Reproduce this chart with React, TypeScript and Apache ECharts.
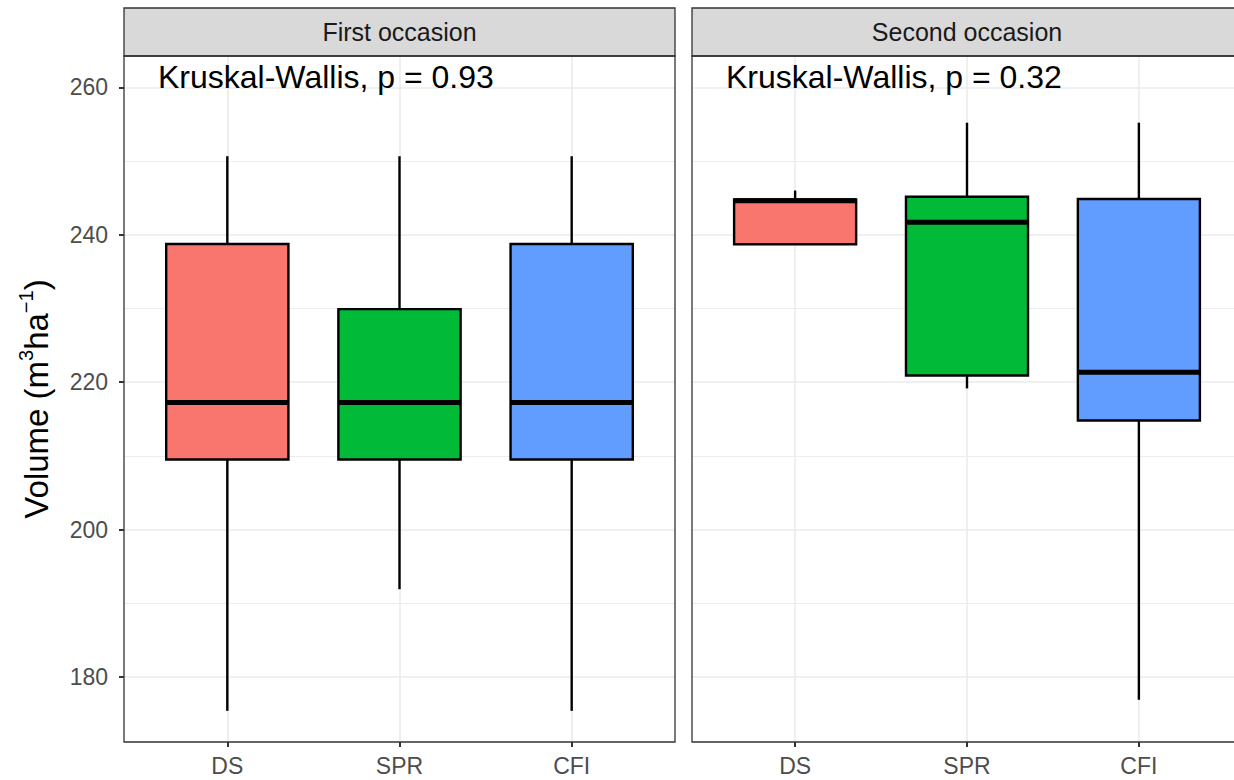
import React, { useEffect, useRef } from "react";
import * as echarts from "echarts";

const categories = ["DS", "SPR", "CFI"];
const boxColors = ["#F8766D", "#00BA38", "#619CFF"];
const panelTitles = ["First occasion", "Second occasion"];
const pLabels = ["Kruskal-Wallis, p = 0.93", "Kruskal-Wallis, p = 0.32"];

// [low whisker, Q1, median, Q3, high whisker] per category
const firstLow = [175.4, 191.9, 175.4];
const firstQ1 = [209.5, 209.5, 209.5];
const firstMed = [217.25, 217.25, 217.25];
const firstQ3 = [238.75, 229.9, 238.75];
const firstHigh = [250.65, 250.65, 250.65];

const secondLow = [238.7, 219.15, 176.9];
const secondQ1 = [238.7, 220.9, 214.8];
const secondMed = [244.6, 241.7, 221.35];
const secondQ3 = [244.8, 245.15, 244.85];
const secondHigh = [246.0, 255.2, 255.2];

const yTicks = [180, 200, 220, 240, 260];
const yMinor = [190, 210, 230, 250];
const xTicks = [1, 2, 3];

const FONT = "'Liberation Sans', Arial, Helvetica, sans-serif";

const PANEL_TOP = 56;
const PANEL_H = 686;
const PANELS = [
  { left: 124, width: 551 },
  { left: 692, width: 550 },
];
const STRIP_TOP = 8;
const STRIP_H = 48;
const BOX_W = 0.71;

function buildData(low: number[], q1: number[], med: number[], q3: number[], high: number[]) {
  return categories.map((_, i) => [i + 1, low[i], q1[i], med[i], q3[i], high[i]]);
}

export default function App() {
  const ref = useRef<HTMLDivElement>(null);

  useEffect(() => {
    document.body.style.margin = "0";
    if (!ref.current) return;
    const chart = echarts.init(ref.current, undefined, { renderer: "svg" });

    const renderItem = (params: any, api: any) => {
      const x = api.value(0);
      const low = api.coord([x, api.value(1)])[1];
      const q1 = api.coord([x, api.value(2)])[1];
      const med = api.coord([x, api.value(3)])[1];
      const q3 = api.coord([x, api.value(4)])[1];
      const high = api.coord([x, api.value(5)])[1];
      const cx = api.coord([x, api.value(3)])[0];
      const hw = api.size([BOX_W, 0])[0] / 2;
      const color = boxColors[params.dataIndex];
      const lineStyle = { stroke: "#000", lineWidth: 2.4 };
      return {
        type: "group",
        children: [
          { type: "line", shape: { x1: cx, y1: high, x2: cx, y2: q3 }, style: lineStyle },
          { type: "line", shape: { x1: cx, y1: q1, x2: cx, y2: low }, style: lineStyle },
          {
            type: "rect",
            shape: { x: cx - hw, y: q3, width: hw * 2, height: q1 - q3 },
            style: { fill: color, stroke: "#000", lineWidth: 2.4 },
          },
          {
            type: "line",
            shape: { x1: cx - hw, y1: med, x2: cx + hw, y2: med },
            style: { stroke: "#000", lineWidth: 5 },
          },
        ],
      };
    };

    const datasets = [
      buildData(firstLow, firstQ1, firstMed, firstQ3, firstHigh),
      buildData(secondLow, secondQ1, secondMed, secondQ3, secondHigh),
    ];

    const grids = PANELS.map((p) => ({
      left: p.left,
      top: PANEL_TOP,
      width: p.width,
      height: PANEL_H,
      containLabel: false,
      outerBoundsMode: "none",
      show: true,
      backgroundColor: "#fff",
      borderWidth: 0,
    }));

    const xAxes = PANELS.map((_, i) => ({
      type: "value",
      gridIndex: i,
      min: 0.4,
      max: 3.6,
      axisLine: { show: false },
      axisTick: {
        show: true,
        length: 5,
        customValues: xTicks,
        lineStyle: { color: "#333333", width: 2 },
      },
      axisLabel: {
        show: true,
        customValues: xTicks,
        formatter: (v: number) => categories[Math.round(v) - 1] ?? "",
        color: "#4d4d4d",
        fontSize: 23,
        fontFamily: FONT,
        margin: 12,
      },
      splitLine: { show: true, lineStyle: { color: "#ebebeb", width: 1.6 } },
    }));

    const yAxes = PANELS.map((_, i) => ({
      type: "value",
      gridIndex: i,
      min: 171.17,
      max: 264.25,
      axisLine: { show: false },
      axisTick: {
        show: i === 0,
        length: 5,
        customValues: yTicks,
        lineStyle: { color: "#333333", width: 2 },
      },
      axisLabel: {
        show: i === 0,
        customValues: yTicks,
        color: "#4d4d4d",
        fontSize: 23,
        fontFamily: FONT,
        margin: 16,
      },
      splitLine: { show: true, lineStyle: { color: "#ebebeb", width: 1.6 } },
      name: i === 0 ? "Volume (m{sup|3}ha{sup|\u22121})" : "",
      nameLocation: "middle",
      nameGap: 68,
      nameRotate: 90,
      nameTextStyle: {
        fontSize: 33,
        fontFamily: FONT,
        color: "#000",
        lineHeight: 40,
        rich: {
          sup: { fontSize: 20, fontFamily: FONT, color: "#000", verticalAlign: "top", lineHeight: 40 },
        },
      },
    }));

    const series: any[] = [];
    PANELS.forEach((_, i) => {
      series.push({
        type: "line",
        xAxisIndex: i,
        yAxisIndex: i,
        data: [],
        z: 1,
        silent: true,
        markLine: {
          silent: true,
          z: 1,
          symbol: ["none", "none"],
          label: { show: false },
          lineStyle: { color: "#ebebeb", width: 0.9, type: "solid" },
          emphasis: { disabled: true },
          data: yMinor.map((v) => ({ yAxis: v })),
        },
      });
      series.push({
        type: "custom",
        xAxisIndex: i,
        yAxisIndex: i,
        z: 10,
        renderItem,
        encode: { x: 0, y: [1, 2, 3, 4, 5] },
        data: datasets[i],
        clip: false,
      });
    });

    const graphics: any[] = [];
    PANELS.forEach((p, i) => {
      graphics.push({
        type: "rect",
        z: 100,
        shape: { x: p.left, y: STRIP_TOP, width: p.width, height: STRIP_H },
        style: { fill: "#d9d9d9", stroke: "#333333", lineWidth: 1.3 },
      });
      graphics.push({
        type: "text",
        z: 101,
        x: p.left + p.width / 2,
        y: STRIP_TOP + STRIP_H / 2,
        style: {
          text: panelTitles[i],
          font: `25px ${FONT}`,
          fill: "#1a1a1a",
          align: "center",
          verticalAlign: "middle",
          textAlign: "center",
          textVerticalAlign: "middle",
        },
      });
      graphics.push({
        type: "rect",
        z: 100,
        shape: { x: p.left, y: PANEL_TOP, width: p.width, height: PANEL_H },
        style: { fill: "none", stroke: "#333333", lineWidth: 1.3 },
      });
      graphics.push({
        type: "text",
        z: 101,
        x: p.left + 34,
        y: 77,
        style: {
          text: pLabels[i],
          font: `32px ${FONT}`,
          fill: "#000",
          align: "left",
          verticalAlign: "middle",
          textAlign: "left",
          textVerticalAlign: "middle",
        },
      });
    });

    chart.setOption({
      animation: false,
      backgroundColor: "#fff",
      textStyle: { fontFamily: FONT },
      grid: grids,
      xAxis: xAxes,
      yAxis: yAxes,
      series,
      graphic: graphics,
    });

    return () => chart.dispose();
  }, []);

  return <div ref={ref} style={{ width: 1234, height: 780 }} />;
}
